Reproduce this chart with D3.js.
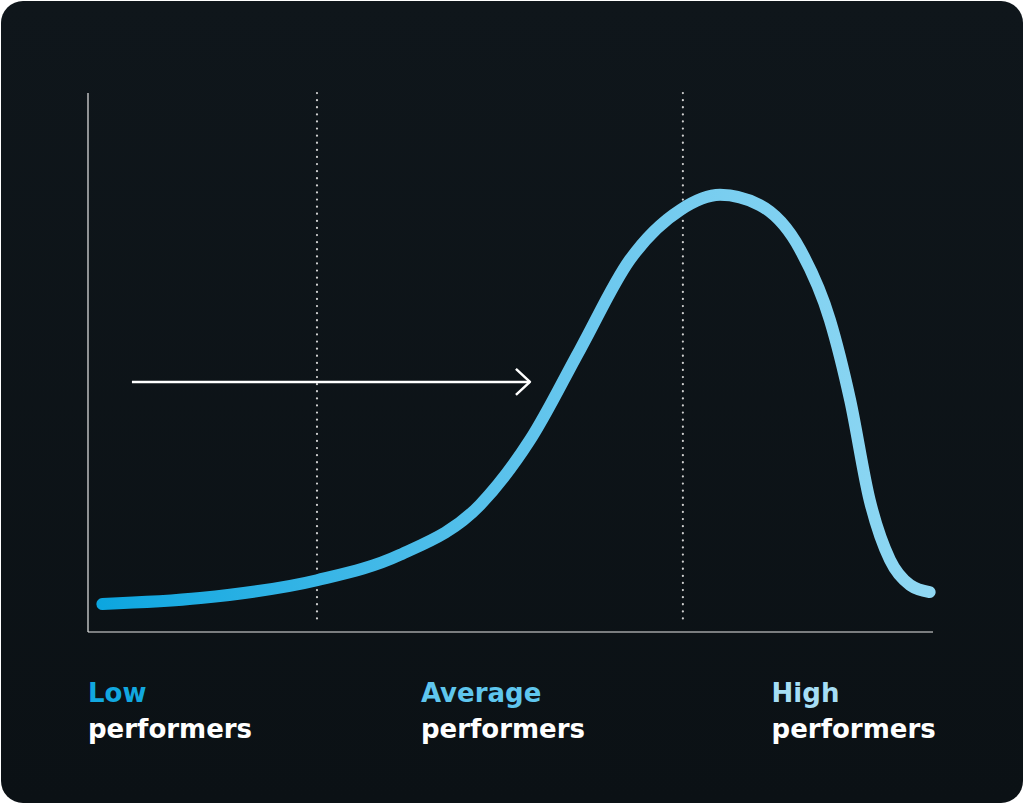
<!DOCTYPE html>
<html><head><meta charset="utf-8">
<script src="https://cdn.jsdelivr.net/npm/d3@7"></script>
<style>body{margin:0;background:#fff}</style></head>
<body><svg id="c" width="1024" height="804"></svg>
<script>
const curveX = [1.7,13.3,27.1,36.9,46.4,52.3,58.2,64.1,70.1,74.8,79.5,84.3,87.8,90.2,92.5,94.9,97.3,99.6];
const curveY = [5.2,6.3,9.6,14.3,23.6,35.6,52.3,69.0,78.3,81.1,79.2,70.9,57.9,43.0,24.5,13.4,8.7,7.4];
const markerX = [27.1, 70.4];
const arrowX = [5.2, 52.3], arrowY = 46.4;
const labelsTop = ["Low","Average","High"];
const labelsBottom = ["performers","performers","performers"];
const labelX = [0, 39.4, 80.9];
const labelColors = ["#12a8e0","#5fc6ee","#a6def5"];

const svg = d3.select("#c");
const x = d3.scaleLinear().domain([0,100]).range([88,933]);
const y = d3.scaleLinear().domain([0,100]).range([632,93]);
const bg = svg.append("defs");
const lg = bg.append("linearGradient").attr("id","bgg").attr("x1",0).attr("y1",0).attr("x2",0).attr("y2",1);
lg.append("stop").attr("offset",0).attr("stop-color","#0f161b");
lg.append("stop").attr("offset",1).attr("stop-color","#0b1115");
const cg = bg.append("linearGradient").attr("id","cg").attr("gradientUnits","userSpaceOnUse")
  .attr("x1",x(0)).attr("x2",x(100)).attr("y1",0).attr("y2",0);
cg.append("stop").attr("offset",0).attr("stop-color","#0aa5df");
cg.append("stop").attr("offset",0.6).attr("stop-color","#6cc8ee");
cg.append("stop").attr("offset",1).attr("stop-color","#90d8f3");
svg.append("rect").attr("x",1).attr("y",1).attr("width",1022).attr("height",802).attr("rx",22).attr("fill","url(#bgg)");

svg.append("line").attr("x1",x(0)).attr("x2",x(0)).attr("y1",y(100)).attr("y2",y(0)).attr("stroke","#e8e8e8").attr("stroke-width",1.2);
svg.append("line").attr("x1",x(0)).attr("x2",x(100)).attr("y1",y(0)).attr("y2",y(0)).attr("stroke","#e8e8e8").attr("stroke-width",1.2);
svg.selectAll(".mk").data(markerX).join("line").attr("x1",d=>x(d)).attr("x2",d=>x(d))
  .attr("y1",y(100)).attr("y2",y(2)).attr("stroke","#d0d0d0").attr("stroke-width",2.2).attr("stroke-dasharray","0.1,7").attr("stroke-linecap","round");

const pts = curveX.map((d,i)=>[x(d),y(curveY[i])]);
svg.append("path").attr("d",d3.line().curve(d3.curveMonotoneX)(pts))
  .attr("fill","none").attr("stroke","url(#cg)").attr("stroke-width",12).attr("stroke-linecap","round");

const ay = y(arrowY);
svg.append("line").attr("x1",x(arrowX[0])).attr("x2",x(arrowX[1])).attr("y1",ay).attr("y2",ay).attr("stroke","#fff").attr("stroke-width",2.5);
svg.append("path").attr("d",`M${x(arrowX[1])-14},${ay-13} L${x(arrowX[1])},${ay} L${x(arrowX[1])-14},${ay+13}`)
  .attr("fill","none").attr("stroke","#fff").attr("stroke-width",2.5).attr("stroke-linejoin","round");

labelsTop.forEach((t,i)=>{
  svg.append("text").attr("x",x(labelX[i])).attr("y",702).text(t).attr("fill",labelColors[i])
    .attr("font-family","DejaVu Sans, sans-serif").attr("font-weight",700).attr("font-size",26);
  svg.append("text").attr("x",x(labelX[i])).attr("y",738).text(labelsBottom[i]).attr("fill","#fff")
    .attr("font-family","DejaVu Sans, sans-serif").attr("font-weight",700).attr("font-size",26);
});
</script></body></html>
